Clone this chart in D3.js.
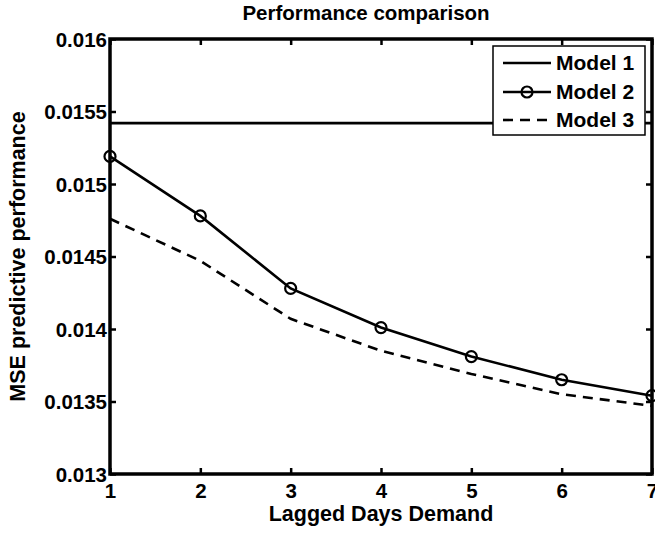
<!DOCTYPE html>
<html><head><meta charset="utf-8">
<script src="https://cdn.jsdelivr.net/npm/d3@7"></script>
<style>body{margin:0;background:#fff}svg{display:block}text{font-family:"Liberation Sans",Arial,sans-serif;font-weight:bold;fill:#000}</style>
</head><body><svg id="c" width="655" height="533"></svg>
<script>
const lags = [1,2,3,4,5,6,7];
const model1 = [0.01542,0.01542,0.01542,0.01542,0.01542,0.01542,0.01542];
const model2 = [0.01519,0.01478,0.01428,0.01401,0.01381,0.01365,0.01354];
const model3 = [0.01476,0.01447,0.01407,0.01385,0.01369,0.01355,0.01347];
const yTicks = [0.013,0.0135,0.014,0.0145,0.015,0.0155,0.016];
const yTickLabels = ["0.013","0.0135","0.014","0.0145","0.015","0.0155","0.016"];
const seriesNames = ["Model 1","Model 2","Model 3"];

const svg = d3.select("#c");
const L=110,R=652,T=39,B=474;
const x = d3.scaleLinear().domain([1,7]).range([L,R]);
const y = d3.scaleLinear().domain([0.013,0.016]).range([B,T]);
const fs = 20.5;

// axes
const gx = svg.append("g").attr("transform",`translate(0,${B})`)
  .call(d3.axisBottom(x).tickValues(lags).tickFormat(d3.format("d")).tickSize(-6).tickPadding(9));
const gxt = svg.append("g").attr("transform",`translate(0,${T})`)
  .call(d3.axisTop(x).tickValues(lags).tickFormat("").tickSize(-6));
const gy = svg.append("g").attr("transform",`translate(${L},0)`)
  .call(d3.axisLeft(y).tickValues(yTicks).tickFormat((d,i)=>yTickLabels[i]).tickSize(-6).tickPadding(3));
const gyr = svg.append("g").attr("transform",`translate(${R},0)`)
  .call(d3.axisRight(y).tickValues(yTicks).tickFormat("").tickSize(-6));
[gx,gxt,gy,gyr].forEach(g=>{
  g.select(".domain").remove();
  g.selectAll(".tick line").attr("stroke","#000").attr("stroke-width",2.5);
  g.selectAll(".tick text").style("font-size",fs+"px").attr("fill","#000");
});
gx.selectAll(".tick text").attr("dy","0.71em");
gy.selectAll(".tick text").attr("dy","0.35em");

// lines
const line = d3.line().x((d,i)=>x(lags[i])).y(d=>y(d));
svg.append("path").datum(model1).attr("d",line).attr("fill","none").attr("stroke","#000").attr("stroke-width",2.6);
svg.append("path").datum(model3).attr("d",line).attr("fill","none").attr("stroke","#000").attr("stroke-width",2.6).attr("stroke-dasharray","10,7");
svg.append("path").datum(model2).attr("d",line).attr("fill","none").attr("stroke","#000").attr("stroke-width",2.6);
svg.selectAll("circle.m2").data(model2).enter().append("circle").attr("class","m2")
  .attr("cx",(d,i)=>x(lags[i])).attr("cy",d=>y(d)).attr("r",5.5)
  .attr("fill","none").attr("stroke","#000").attr("stroke-width",2.2);

// frame
svg.append("rect").attr("x",L).attr("y",T).attr("width",R-L).attr("height",B-T)
  .attr("fill","none").attr("stroke","#000").attr("stroke-width",3.5);

// title & labels
svg.append("text").attr("x",366).attr("y",20).attr("text-anchor","middle").style("font-size","20.5px").text("Performance comparison");
svg.append("text").attr("x",(L+R)/2).attr("y",521).attr("text-anchor","middle").style("font-size","21.5px").text("Lagged Days Demand");
svg.append("text").attr("transform",`translate(25,${(T+B)/2}) rotate(-90)`).attr("text-anchor","middle").style("font-size","21.5px").text("MSE predictive performance");

// legend
const lg = svg.append("g");
lg.append("rect").attr("x",493).attr("y",46).attr("width",152).attr("height",89).attr("fill","#fff").attr("stroke","#000").attr("stroke-width",1.5);
const rows=[63,92,120];
seriesNames.forEach((n,i)=>{
  const ly=rows[i];
  const p=lg.append("line").attr("x1",503).attr("x2",551).attr("y1",ly).attr("y2",ly).attr("stroke","#000").attr("stroke-width",2.6);
  if(i===2) p.attr("stroke-dasharray","10,7");
  if(i===1) lg.append("circle").attr("cx",527).attr("cy",ly).attr("r",5.5).attr("fill","none").attr("stroke","#000").attr("stroke-width",2.2);
  lg.append("text").attr("x",556).attr("y",ly).attr("dy","0.35em").style("font-size","21px").text(n);
});
</script></body></html>
